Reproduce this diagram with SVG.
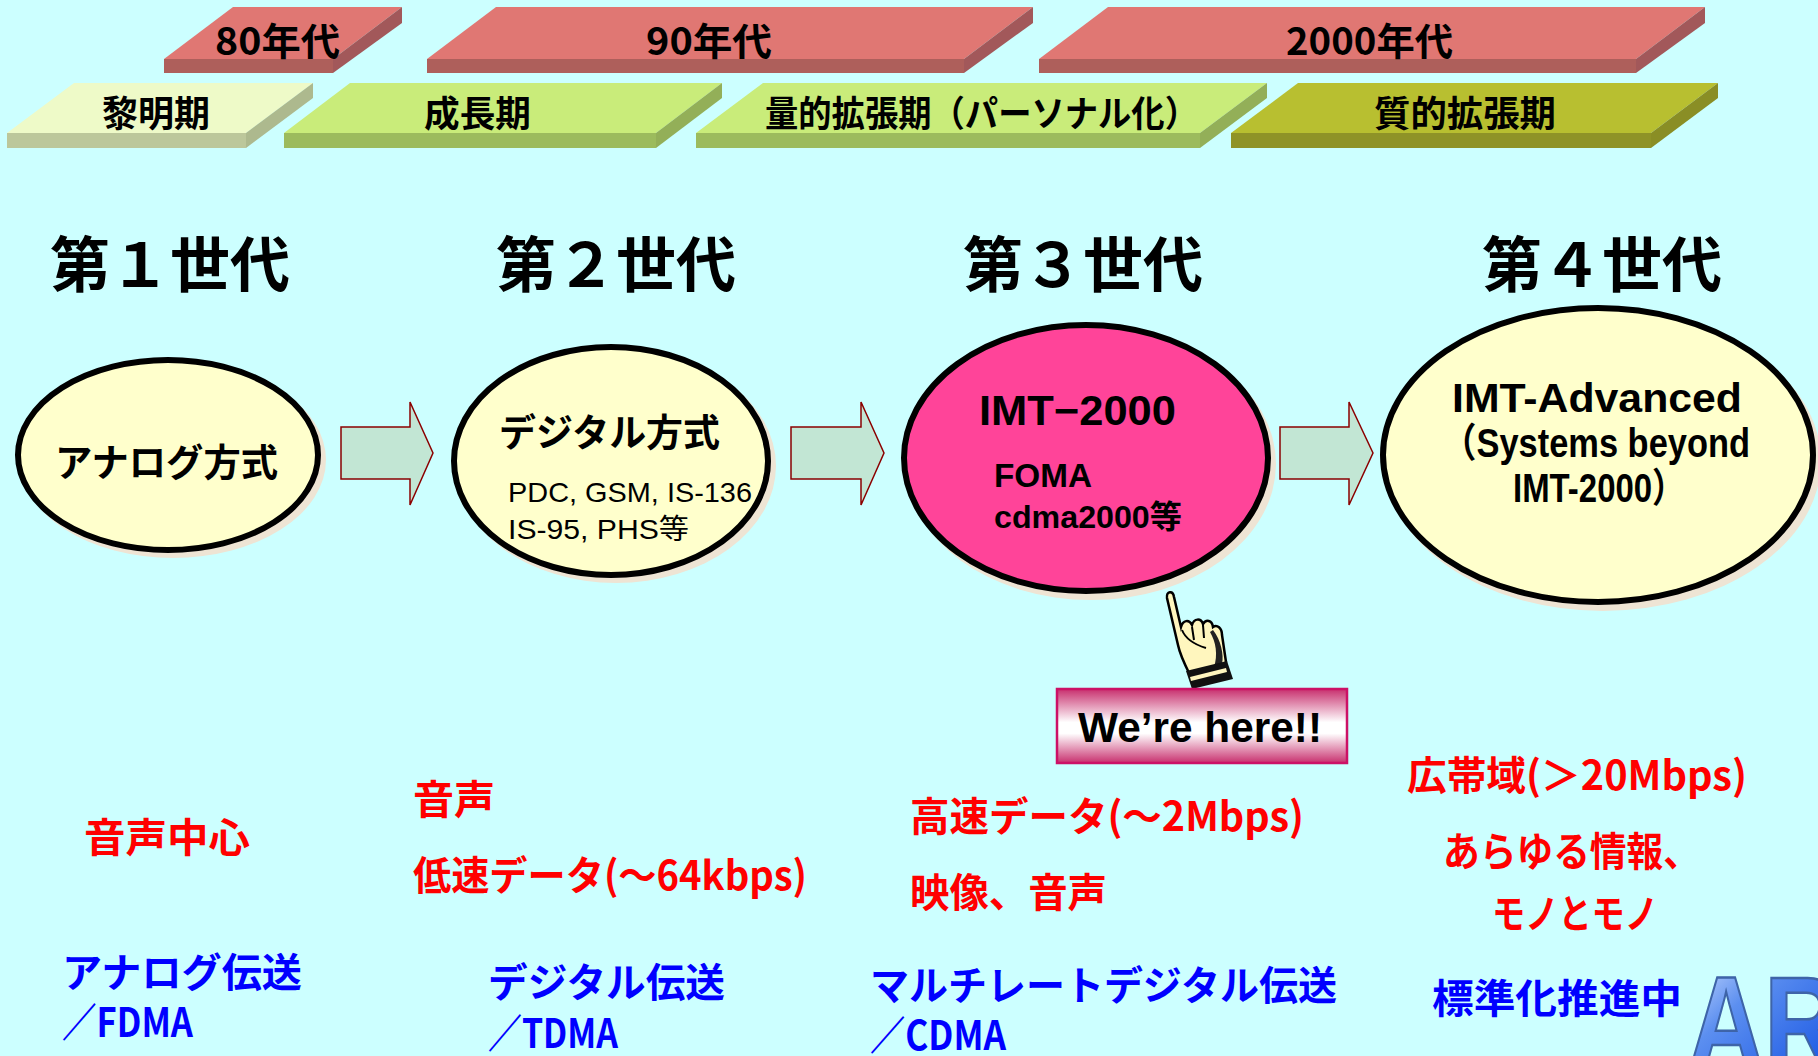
<svg xmlns="http://www.w3.org/2000/svg" width="1818" height="1056" viewBox="0 0 1818 1056">
  <defs>
    <style>
      .jp { font-family: "Noto Sans CJK JP", "Liberation Sans", sans-serif; font-weight: bold; }
      .lat { font-family: "Liberation Sans", "Noto Sans CJK JP", sans-serif; }
      .bar-label { font-size: 38px; fill: #000; }
      .phase-label { font-size: 36px; fill: #000; }
      .gen { font-size: 60px; fill: #000; text-anchor: middle; }
      .red-top { fill: #E07773; } .red-front { fill: #AE5F5B; } .red-side { fill: #A2585A; }
      .pale-top { fill: #EEFAC8; } .pale-front { fill: #BCC79B; } .pale-side { fill: #ADB98E; }
      .green-top { fill: #C9EC7A; } .green-front { fill: #9CBB5D; } .green-side { fill: #93AF58; }
      .olive-top { fill: #B8BF30; } .olive-front { fill: #8F9327; } .olive-side { fill: #8A8E25; }
      .shadow { fill: #EEE4D4; }
      .node { stroke: #000; stroke-width: 6; }
      .cream { fill: #FFFFCC; }
      .pink { fill: #FF4499; }
      .step { fill: #C2E6D4; stroke: #8B0000; stroke-width: 1.5; }
      .feat { font-size: 40px; fill: #FF0000; }
      .tech { font-size: 40px; fill: #0000FF; }
    </style>
    <linearGradient id="hereFill" x1="0" y1="0" x2="0" y2="1">
      <stop offset="0" stop-color="#C8306E"/>
      <stop offset="0.45" stop-color="#FFFFFF"/>
      <stop offset="0.6" stop-color="#FFFFFF"/>
      <stop offset="1" stop-color="#C8306E"/>
    </linearGradient>
    <linearGradient id="logoFill" x1="0" y1="0" x2="1" y2="1">
      <stop offset="0" stop-color="#DCE8FF"/>
      <stop offset="0.35" stop-color="#5C8FF0"/>
      <stop offset="1" stop-color="#0848E0"/>
    </linearGradient>
  </defs>

  <!-- background -->
  <rect x="0" y="0" width="1818" height="1056" fill="#CCFFFF"/>

  <!-- decade bars -->
  <g id="decade-80s">
    <polygon class="red-top" points="164,59 233,7 402,7 333,59"/>
    <polygon class="red-side" points="333,59 402,7 402,23 333,73"/>
    <rect class="red-front" x="164" y="59" width="169" height="14"/>
    <text class="jp bar-label" x="215" y="55" textLength="125" lengthAdjust="spacingAndGlyphs">80年代</text>
  </g>
  <g id="decade-90s">
    <polygon class="red-top" points="427,59 496,7 1033,7 964,59"/>
    <polygon class="red-side" points="964,59 1033,7 1033,23 964,73"/>
    <rect class="red-front" x="427" y="59" width="537" height="14"/>
    <text class="jp bar-label" x="646" y="55" textLength="126" lengthAdjust="spacingAndGlyphs">90年代</text>
  </g>
  <g id="decade-2000s">
    <polygon class="red-top" points="1039,59 1108,7 1705,7 1636,59"/>
    <polygon class="red-side" points="1636,59 1705,7 1705,23 1636,73"/>
    <rect class="red-front" x="1039" y="59" width="597" height="14"/>
    <text class="jp bar-label" x="1286" y="55" textLength="167" lengthAdjust="spacingAndGlyphs">2000年代</text>
  </g>

  <!-- phase bars -->
  <g id="phase-dawn">
    <polygon class="pale-top" points="7,133 74,83 313,83 246,133"/>
    <polygon class="pale-side" points="246,133 313,83 313,98 246,148"/>
    <rect class="pale-front" x="7" y="133" width="239" height="15"/>
    <text class="jp phase-label" x="102" y="127" textLength="108" lengthAdjust="spacingAndGlyphs">黎明期</text>
  </g>
  <g id="phase-growth">
    <polygon class="green-top" points="284,133 350,83 722,83 656,133"/>
    <polygon class="green-side" points="656,133 722,83 722,98 656,148"/>
    <rect class="green-front" x="284" y="133" width="372" height="15"/>
    <text class="jp phase-label" x="424" y="127" textLength="107" lengthAdjust="spacingAndGlyphs">成長期</text>
  </g>
  <g id="phase-quantity">
    <polygon class="green-top" points="696,133 763,83 1267,83 1200,133"/>
    <polygon class="green-side" points="1200,133 1267,83 1267,98 1200,148"/>
    <rect class="green-front" x="696" y="133" width="504" height="15"/>
    <text class="jp phase-label" x="765" y="127" textLength="433" lengthAdjust="spacingAndGlyphs">量的拡張期（パーソナル化）</text>
  </g>
  <g id="phase-quality">
    <polygon class="olive-top" points="1231,133 1298,83 1718,83 1651,133"/>
    <polygon class="olive-side" points="1651,133 1718,83 1718,98 1651,148"/>
    <rect class="olive-front" x="1231" y="133" width="420" height="15"/>
    <text class="jp phase-label" x="1374" y="127" textLength="182" lengthAdjust="spacingAndGlyphs">質的拡張期</text>
  </g>

  <!-- generation headings -->
  <text id="gen1-title" class="jp gen" x="170" y="287">第１世代</text>
  <text id="gen2-title" class="jp gen" x="616" y="287">第２世代</text>
  <text id="gen3-title" class="jp gen" x="1083" y="287">第３世代</text>
  <text id="gen4-title" class="jp gen" x="1602" y="287">第４世代</text>

  <!-- generation nodes -->
  <g id="node-analog">
    <ellipse class="shadow" cx="173" cy="460" rx="153" ry="98"/>
    <ellipse class="node cream" cx="168" cy="455" rx="150" ry="95"/>
    <text class="jp" x="55" y="476" font-size="38" textLength="223" lengthAdjust="spacingAndGlyphs">アナログ方式</text>
  </g>
  <g id="node-digital">
    <ellipse class="shadow" cx="616" cy="466" rx="160" ry="117"/>
    <ellipse class="node cream" cx="611" cy="461" rx="157" ry="114"/>
    <text class="jp" x="499" y="446" font-size="38" textLength="221" lengthAdjust="spacingAndGlyphs">デジタル方式</text>
    <text class="lat" x="508" y="502" font-size="28" textLength="244" lengthAdjust="spacingAndGlyphs">PDC, GSM, IS-136</text>
    <text class="lat" x="508" y="539" font-size="28" textLength="181" lengthAdjust="spacingAndGlyphs">IS-95, PHS等</text>
  </g>
  <g id="node-imt2000">
    <ellipse class="shadow" cx="1091" cy="464" rx="185" ry="136"/>
    <ellipse class="node pink" cx="1086" cy="458" rx="182" ry="133"/>
    <text class="lat" x="979" y="425" font-size="42" font-weight="bold" textLength="197" lengthAdjust="spacingAndGlyphs">IMT−2000</text>
    <text class="lat" x="994" y="487" font-size="33" font-weight="bold" textLength="98" lengthAdjust="spacingAndGlyphs">FOMA</text>
    <text class="lat" x="994" y="528" font-size="32" font-weight="bold" textLength="188" lengthAdjust="spacingAndGlyphs">cdma2000等</text>
  </g>
  <g id="node-imt-advanced">
    <ellipse class="shadow" cx="1603" cy="461" rx="218" ry="150"/>
    <ellipse class="node cream" cx="1598" cy="455" rx="215" ry="147"/>
    <text class="lat" x="1452" y="412" font-size="40" font-weight="bold" textLength="290" lengthAdjust="spacingAndGlyphs">IMT-Advanced</text>
    <text class="lat" x="1442" y="457" font-size="40" font-weight="bold" textLength="308" lengthAdjust="spacingAndGlyphs">（Systems beyond</text>
    <text class="lat" x="1513" y="502" font-size="40" font-weight="bold" textLength="172" lengthAdjust="spacingAndGlyphs">IMT-2000）</text>
  </g>

  <!-- transitions between generations -->
  <g id="connectors">
    <path class="step" d="M341,427 H410 V402 L433,453 L410,505 V479 H341 Z"/>
    <path class="step" d="M791,427 H861 V402 L884,453 L861,505 V479 H791 Z"/>
    <path class="step" d="M1280,427 H1349 V402 L1373,453 L1349,505 V479 H1280 Z"/>
  </g>

  <!-- pointing hand -->
  <g id="pointer">
    <path d="M1167,598 C1166,591 1173,590 1174,597 L1181,627 C1183,620 1189,619 1192,625 C1194,618 1201,618 1203,624 C1206,619 1212,620 1213,627 C1217,624 1222,628 1222,635 L1226,662 C1221,668 1212,670 1200,672 L1190,675 C1185,665 1180,655 1178,645 Z" fill="#FFF6BE" stroke="#000" stroke-width="2.5"/>
    <path d="M1213,630 C1221,640 1224,655 1222,664 L1214,667 C1218,655 1216,642 1210,632 Z" fill="#222"/>
    <path d="M1192,627 L1194,640 M1203,625 L1204,638 M1182,630 C1186,640 1196,645 1206,648" fill="none" stroke="#000" stroke-width="2"/>
    <path d="M1186,671 L1227,661 L1233,679 L1192,689 Z" fill="#111"/>
    <path d="M1190,677 L1226,668 L1227,672 L1191,681 Z" fill="#FFF6BE"/>
  </g>

  <!-- current position marker -->
  <g id="here-label">
    <rect x="1057" y="689" width="290" height="74" fill="url(#hereFill)" stroke="#CC1166" stroke-width="2.5"/>
    <text class="lat" x="1078" y="742" font-size="42" font-weight="bold" textLength="244" lengthAdjust="spacingAndGlyphs">We’re here!!</text>
  </g>

  <!-- service features and access methods -->
  <g id="gen1-notes">
    <text class="jp feat" x="84" y="852" font-size="41" textLength="166" lengthAdjust="spacingAndGlyphs">音声中心</text>
    <text class="jp tech" x="62" y="987" textLength="240" lengthAdjust="spacingAndGlyphs">アナログ伝送</text>
    <text class="jp tech" x="62" y="1037" textLength="131" lengthAdjust="spacingAndGlyphs">／FDMA</text>
  </g>
  <g id="gen2-notes">
    <text class="jp feat" x="413" y="814" font-size="41" textLength="82" lengthAdjust="spacingAndGlyphs">音声</text>
    <text class="jp feat" x="413" y="890" textLength="394" lengthAdjust="spacingAndGlyphs">低速データ(～64kbps)</text>
    <text class="jp tech" x="488" y="997" textLength="237" lengthAdjust="spacingAndGlyphs">デジタル伝送</text>
    <text class="jp tech" x="488" y="1048" textLength="130" lengthAdjust="spacingAndGlyphs">／TDMA</text>
  </g>
  <g id="gen3-notes">
    <text class="jp feat" x="910" y="831" textLength="394" lengthAdjust="spacingAndGlyphs">高速データ(～2Mbps)</text>
    <text class="jp feat" x="910" y="907" textLength="197" lengthAdjust="spacingAndGlyphs">映像、音声</text>
    <text class="jp tech" x="870" y="1000" textLength="467" lengthAdjust="spacingAndGlyphs">マルチレートデジタル伝送</text>
    <text class="jp tech" x="870" y="1050" textLength="136" lengthAdjust="spacingAndGlyphs">／CDMA</text>
  </g>
  <g id="gen4-notes">
    <text class="jp feat" x="1407" y="790" textLength="340" lengthAdjust="spacingAndGlyphs">広帯域(＞20Mbps)</text>
    <text class="jp feat" x="1443" y="866" textLength="257" lengthAdjust="spacingAndGlyphs">あらゆる情報、</text>
    <text class="jp feat" x="1492" y="928" textLength="166" lengthAdjust="spacingAndGlyphs">モノとモノ</text>
    <text class="jp tech" x="1432" y="1013" font-size="41" textLength="250" lengthAdjust="spacingAndGlyphs">標準化推進中</text>
  </g>

  <!-- corner logo -->
  <g id="logo">
    <text x="1688" y="1068" transform="translate(1688 0) scale(0.8 1) translate(-1688 0)" font-family="Liberation Sans, sans-serif" font-weight="bold" font-size="132" fill="url(#logoFill)" stroke="#3E64A8" stroke-width="2.5">AR</text>
  </g>
</svg>
